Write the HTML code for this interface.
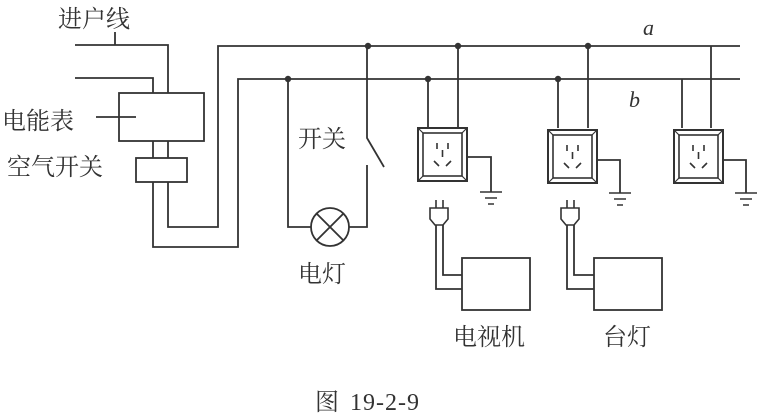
<!DOCTYPE html>
<html><head><meta charset="utf-8"><style>
body{margin:0;background:#fff;}
svg{display:block;}
text{font-family:"Liberation Serif","Noto Serif CJK SC","Noto Sans CJK SC",serif;fill:#333;}
</style></head><body>
<svg width="759" height="418" viewBox="0 0 759 418" xmlns="http://www.w3.org/2000/svg">
<defs>
<g id="sock">
<rect x="0" y="0" width="49" height="53" fill="#fff" stroke="#333" stroke-width="2"/>
<rect x="5" y="5" width="39" height="43" fill="none" stroke="#333" stroke-width="1.6"/>
<path d="M0 0L5 5M49 0L44 5M0 53L5 48M49 53L44 48" stroke="#333" stroke-width="1.2"/>
<path d="M19 15v6M30 15v6M24.5 22v7M16 33l5 5M33 33l-5 5" stroke="#333" stroke-width="1.6"/>
</g>
<g id="gnd">
<path d="M-11 0h22M-6 6h12M-3 12h6" stroke="#333" stroke-width="1.6"/>
</g>
<g id="plug">
<path d="M-3 0v8M4 0v8" stroke="#333" stroke-width="1.6"/>
<path d="M-9 8h18v11l-5 6h-8l-5-6z" fill="#fff" stroke="#333" stroke-width="1.6"/>
</g>
</defs>
<g fill="none" stroke="#333" stroke-width="1.8">
<path d="M75 45H168V93"/>
<path d="M115 32V45"/>
<path d="M75 78H153V93"/>
<rect x="119" y="93" width="85" height="48"/>
<path d="M96 117H136"/>
<path d="M153 141V158M168 141V158"/>
<rect x="136" y="158" width="51" height="24"/>
<path d="M168 182V227H218V46H740"/>
<path d="M153 182V247H238V79H740"/>
<path d="M288 79V227H311"/>
<circle cx="330" cy="227" r="19"/>
<path d="M317 214L343 240M343 214L317 240"/>
<path d="M349 227H367V165"/>
<path d="M367 46V138L384 167"/>
<path d="M428 79V128M458 46V128"/>
<path d="M558 79V128M588 46V128"/>
<path d="M682 79V128M711 46V128"/>
<path d="M467 157H491V192"/>
<path d="M597 160H620V193"/>
<path d="M723 160H746V193"/>
<path d="M436 225V289H462M443 225V275H462"/>
<rect x="462" y="258" width="68" height="52"/>
<path d="M567 225V289H594M574 225V275H594"/>
<rect x="594" y="258" width="68" height="52"/>
</g>
<g fill="#333">
<circle cx="368" cy="46" r="3.2"/><circle cx="458" cy="46" r="3.2"/><circle cx="588" cy="46" r="3.2"/>
<circle cx="288" cy="79" r="3.2"/><circle cx="428" cy="79" r="3.2"/><circle cx="558" cy="79" r="3.2"/>
</g>
<use href="#sock" x="418" y="128"/>
<use href="#sock" x="548" y="130"/>
<use href="#sock" x="674" y="130"/>
<use href="#gnd" x="491" y="192"/>
<use href="#gnd" x="620" y="193"/>
<use href="#gnd" x="746" y="193"/>
<use href="#plug" x="439" y="200"/>
<use href="#plug" x="570" y="200"/>
<text x="58" y="27" font-size="24">进户线</text>
<text x="2" y="129" font-size="24">电能表</text>
<text x="7" y="175" font-size="24">空气开关</text>
<text x="298" y="147" font-size="24">开关</text>
<text x="298" y="282" font-size="24">电灯</text>
<text x="453" y="345" font-size="24">电视机</text>
<text x="603" y="345" font-size="24">台灯</text>
<text x="643" y="35" font-size="22" font-style="italic">a</text>
<text x="629" y="107" font-size="22" font-style="italic">b</text>
<text x="315" y="410" font-size="24">图</text>
<text x="350" y="410" font-size="24" font-family="Liberation Mono, monospace" letter-spacing="1">19-2-9</text>
</svg>
</body></html>
